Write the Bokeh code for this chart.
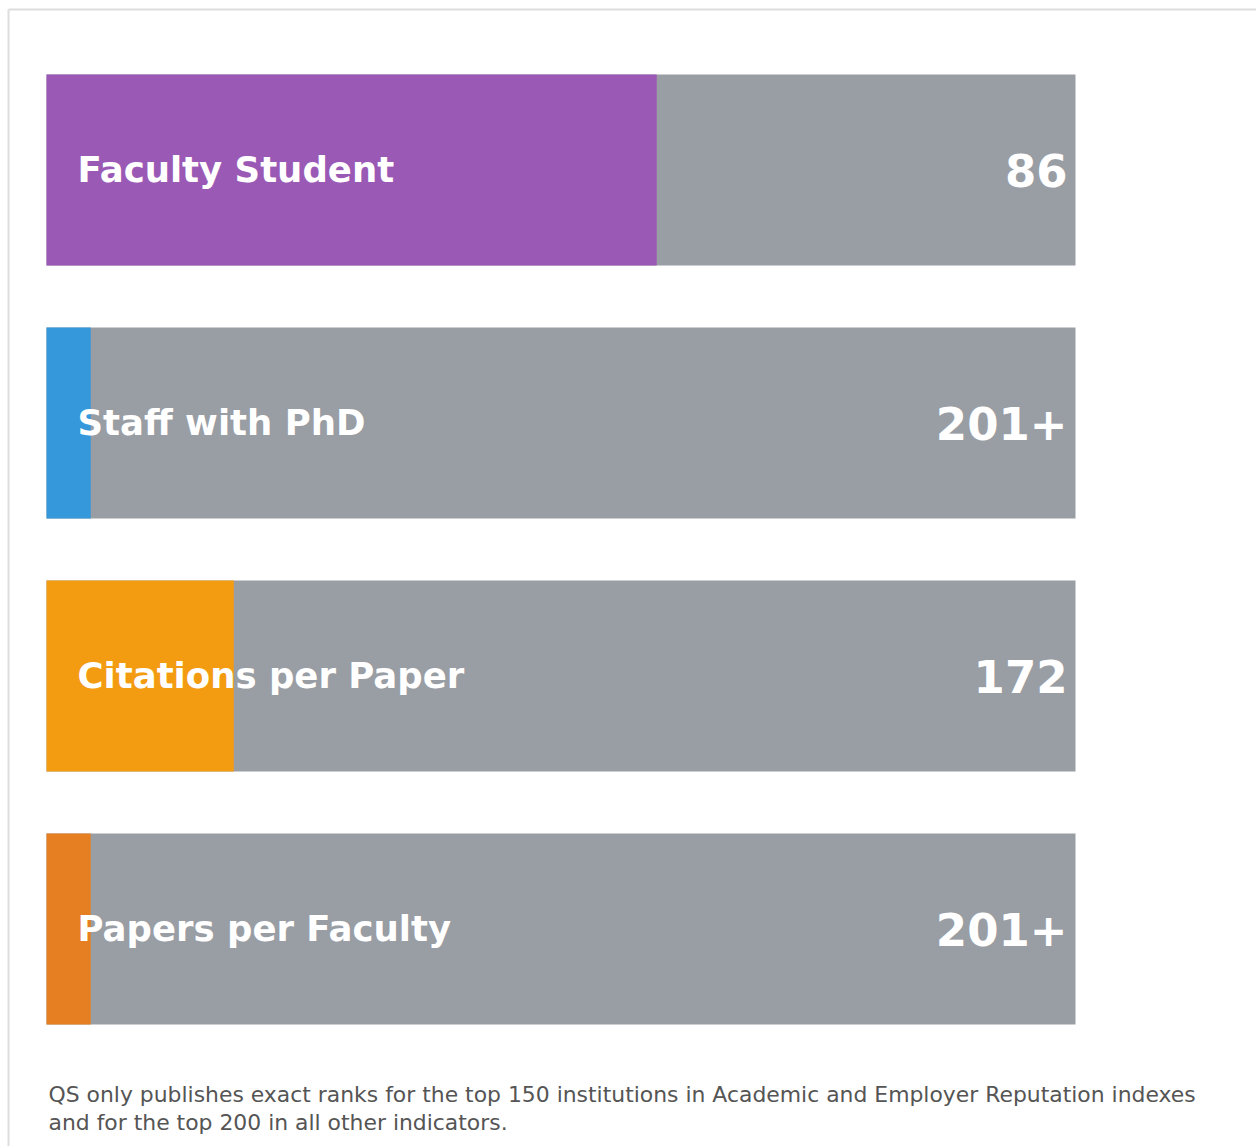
import numpy as np
from bokeh.plotting import figure
from bokeh.models import ColumnDataSource, Range1d, Label
from bokeh.core.properties import value
from bokeh.embed import file_html
from bokeh.resources import INLINE

# ---- data ----
categories = ["Faculty Student", "Staff with PhD", "Citations per Paper", "Papers per Faculty"]
ranks = ["86", "201+", "172", "201+"]
scores = [59.3, 4.3, 18.2, 4.3]          # filled share of each bar (0-100)
max_score = 100
colors = ["#9b59b6", "#3498db", "#f39c12", "#e67e22"]
footnote_lines = [
    "QS only publishes exact ranks for the top 150 institutions in Academic and Employer Reputation indexes",
    "and for the top 200 in all other indicators.",
]

W, H = 1256, 1146
px_per_x = 1029 / max_score        # pixels per data unit (x)
px_per_row = 253                   # pixels per row (y)
x0 = -46 / px_per_x
x1 = x0 + W / px_per_x
ytop = 169.5 / px_per_row
ybot = ytop - H / px_per_row

ys = -np.arange(len(categories))
src = ColumnDataSource(dict(
    y=ys, score=scores, full=[max_score] * len(categories),
    color=colors, cat=categories, rank=ranks,
))

p = figure(width=W, height=H, output_backend="svg", toolbar_location=None,
           x_range=Range1d(x0, x1), y_range=Range1d(ybot, ytop),
           min_border=0, background_fill_color="white", border_fill_color="white")
p.axis.visible = False
p.grid.visible = False
p.outline_line_color = None

# container border (top and left edges)
bx = x0 + 8 / px_per_x
by = ytop - 9 / px_per_row
p.segment(x0=[bx, bx], y0=[by, by], x1=[x1 + 5, bx], y1=[by, ybot - 1],
          line_color="#dddddd", line_width=2)

p.hbar(y="y", left=0, right="full", height=0.755, color="#999da4", line_color=None, source=src)
p.hbar(y="y", left=0, right="score", height=0.755, color="color", line_color=None, source=src)

p.text(x=0, y="y", text="cat", source=src, x_offset=31, y_offset=-1,
       text_font=value("DejaVu Sans"), text_font_style="bold", text_font_size="35.5px",
       text_color="white", text_align="left", text_baseline="alphabetic")
p.text(x="full", y="y", text="rank", source=src, x_offset=-8, y_offset=0,
       text_font=value("DejaVu Sans"), text_font_style="bold", text_font_size="45px",
       text_color="white", text_align="right", text_baseline="alphabetic")

last = ys[-1]
for i, line in enumerate(footnote_lines):
    p.add_layout(Label(x=0, y=last, text=line, x_offset=2, y_offset=-(165.5 + 28 * i),
                       text_font="DejaVu Sans", text_font_size="21.9px",
                       text_color="#555555", text_align="left", text_baseline="alphabetic"))

open("out.html", "w").write(file_html(p, INLINE))
